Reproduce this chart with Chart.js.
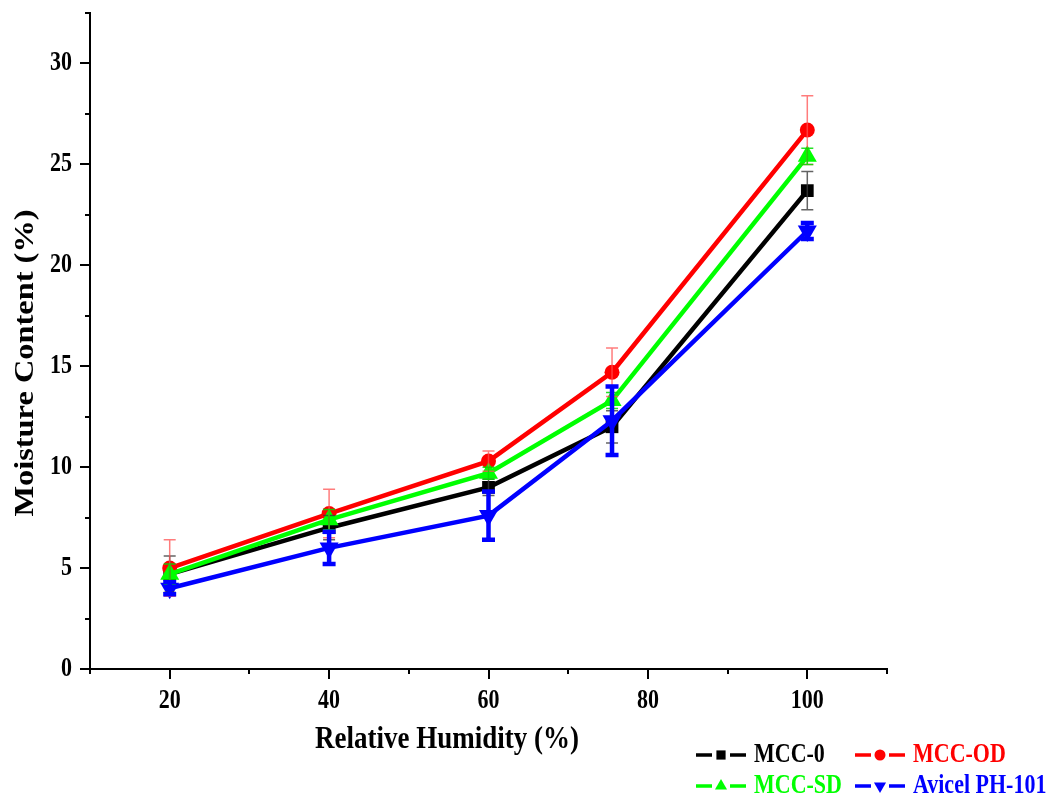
<!DOCTYPE html>
<html>
<head>
<meta charset="utf-8">
<script src="https://cdn.jsdelivr.net/npm/chart.js@4.4.1/dist/chart.umd.min.js"></script>
<style>
    html, body { margin: 0; padding: 0; background: #fff; }
    #wrap { width: 1055px; height: 797px; position: relative; }
</style>
</head>
<body>
<div id="wrap"><canvas id="moistureChart" width="1055" height="797"></canvas></div>
<script>
// Relative humidity (%) for each point
const humidity = [20, 40, 60, 75.5, 100];

// Moisture content (%) per sample
const mcc0 = [4.7, 7.0, 9.0, 12.0, 23.7];
const mccOD = [5.0, 7.7, 10.3, 14.7, 26.7];
const mccSD = [4.7, 7.4, 9.7, 13.3, 25.4];
const avicel = [4.0, 6.0, 7.6, 12.3, 21.7];

// Error (± SD)
const mcc0Err = [0.9, 0.6, 0.4, 0.8, 0.95];
const mccODErr = [1.4, 1.2, 0.5, 1.2, 1.7];
const mccSDErr = [0.5, 0.5, 0.3, 0.4, 0.4];
const avicelErr = [0.3, 0.8, 1.2, 1.7, 0.4];

const labels = ['MCC-0', 'MCC-OD', 'MCC-SD', 'Avicel PH-101'];
const xTickLabels = [20, 40, 60, 80, 100];
const yTickLabels = [0, 5, 10, 15, 20, 25, 30];

const FONT = "'Liberation Serif', 'Times New Roman', serif";
const STRETCH = 1.2; // the original figure text is a bit taller than wide

const toPoints = (ys) => humidity.map((x, i) => ({ x: x, y: ys[i] }));

function drawText(ctx, text, x, y, opts) {
    ctx.save();
    ctx.translate(x, y);
    ctx.scale(1, STRETCH);
    if (opts.rotate) ctx.rotate(-Math.PI / 2);
    ctx.font = 'bold ' + opts.size + 'px ' + FONT;
    ctx.fillStyle = opts.color || '#000';
    ctx.textAlign = opts.align || 'center';
    ctx.textBaseline = 'middle';
    ctx.fillText(text, 0, 0);
    ctx.restore();
}

// Error bars, axis ticks, tick labels, titles and legend
const extrasPlugin = {
    id: 'extras',
    afterDatasetsDraw(chart) {
        const ctx = chart.ctx;
        const xs = chart.scales.x;
        const ys = chart.scales.y;
        chart.data.datasets.forEach((ds) => {
            ctx.save();
            ctx.strokeStyle = ds.errColor;
            ctx.lineWidth = ds.errWidth;
            ds.data.forEach((p, i) => {
                const e = ds.err[i];
                const px = xs.getPixelForValue(p.x);
                const top = ys.getPixelForValue(p.y + e);
                const bot = ys.getPixelForValue(p.y - e);
                const cap = ds.capHalf;
                ctx.beginPath();
                ctx.moveTo(px, top); ctx.lineTo(px, bot);
                ctx.moveTo(px - cap, top); ctx.lineTo(px + cap, top);
                ctx.moveTo(px - cap, bot); ctx.lineTo(px + cap, bot);
                ctx.stroke();
            });
            ctx.restore();
        });
    },
    afterDraw(chart) {
        const ctx = chart.ctx;
        const xs = chart.scales.x;
        const ys = chart.scales.y;
        const area = chart.chartArea;
        ctx.save();
        ctx.strokeStyle = '#000';
        ctx.lineWidth = 2;
        // x ticks
        for (let v = 10; v <= 110; v += 10) {
            const px = Math.round(xs.getPixelForValue(v));
            const len = (v % 20 === 0) ? 10 : 5;
            ctx.beginPath();
            ctx.moveTo(px, area.bottom);
            ctx.lineTo(px, area.bottom + len);
            ctx.stroke();
        }
        // y ticks
        for (let v = 0; v <= 32.5; v += 2.5) {
            const py = Math.round(ys.getPixelForValue(v));
            const len = (v % 5 === 0) ? 10 : 5;
            ctx.beginPath();
            ctx.moveTo(area.left, py);
            ctx.lineTo(area.left - len, py);
            ctx.stroke();
        }
        ctx.restore();

        xTickLabels.forEach((v) => {
            drawText(ctx, String(v), xs.getPixelForValue(v), area.bottom + 32, { size: 22 });
        });
        yTickLabels.forEach((v) => {
            drawText(ctx, String(v), area.left - 18, ys.getPixelForValue(v), { size: 22, align: 'right' });
        });

        drawText(ctx, 'Relative Humidity (%)', 447, 740, { size: 27 });
        drawText(ctx, 'Moisture Content (%)', 26, 363, { size: 27, rotate: true });

        // legend, two rows
        const slots = [
            { x: 696, y: 755 }, { x: 855, y: 755 },
            { x: 696, y: 786 }, { x: 855, y: 786 }
        ];
        chart.data.datasets.forEach((ds, i) => {
            const s = slots[i];
            ctx.save();
            ctx.strokeStyle = ds.borderColor;
            ctx.fillStyle = ds.borderColor;
            ctx.lineWidth = 3.5;
            ctx.beginPath();
            ctx.moveTo(s.x, s.y); ctx.lineTo(s.x + 16, s.y);
            ctx.moveTo(s.x + 34, s.y); ctx.lineTo(s.x + 50, s.y);
            ctx.stroke();
            Chart.helpers.drawPoint(ctx, {
                pointStyle: ds.pointStyle,
                rotation: ds.pointRotation || 0,
                radius: ds.pointStyle === 'rect' ? 6.5 : (ds.pointStyle === 'circle' ? 5.5 : 7),
                borderWidth: 0
            }, s.x + 25, s.y);
            ctx.restore();
            drawText(ctx, ds.label, s.x + 58, s.y, { size: 22, align: 'left', color: ds.borderColor });
        });
    }
};

const ctx = document.getElementById('moistureChart').getContext('2d');

new Chart(ctx, {
    type: 'line',
    data: {
        datasets: [
            {
                label: labels[0], data: toPoints(mcc0), err: mcc0Err,
                borderColor: '#000000', backgroundColor: '#000000',
                pointStyle: 'rect', pointRadius: 9,
                errColor: 'rgba(60,60,60,0.8)', errWidth: 1.5, capHalf: 6, order: 4
            },
            {
                label: labels[1], data: toPoints(mccOD), err: mccODErr,
                borderColor: '#ff0000', backgroundColor: '#ff0000',
                pointStyle: 'circle', pointRadius: 7.5,
                errColor: 'rgba(255,80,80,0.75)', errWidth: 1.5, capHalf: 6, order: 3
            },
            {
                label: labels[2], data: toPoints(mccSD), err: mccSDErr,
                borderColor: '#00ff00', backgroundColor: '#00ff00',
                pointStyle: 'triangle', pointRadius: 11,
                errColor: 'rgba(0,220,0,0.85)', errWidth: 1.5, capHalf: 6, order: 2
            },
            {
                label: labels[3], data: toPoints(avicel), err: avicelErr,
                borderColor: '#0000ff', backgroundColor: '#0000ff',
                pointStyle: 'triangle', pointRotation: 180, pointRadius: 11,
                errColor: '#0000ff', errWidth: 4.5, capHalf: 6.5, order: 1
            }
        ]
    },
    options: {
        responsive: false,
        animation: false,
        layout: { padding: { top: 13, right: 168, left: 0, bottom: 0 } },
        elements: {
            line: { borderWidth: 4.5, tension: 0 },
            point: { borderWidth: 0 }
        },
        scales: {
            x: {
                type: 'linear',
                min: 10, max: 110,
                afterFit(scale) { scale.height = 128; },
                grid: { display: false },
                border: { display: true, color: '#000', width: 2 },
                ticks: { display: false, stepSize: 10 }
            },
            y: {
                min: 0, max: 32.5,
                afterFit(scale) { scale.width = 90; },
                grid: { display: false },
                border: { display: true, color: '#000', width: 2 },
                ticks: { display: false, stepSize: 2.5 }
            }
        },
        plugins: {
            legend: { display: false },
            tooltip: { enabled: false }
        }
    },
    plugins: [extrasPlugin]
});
</script>
</body>
</html>
